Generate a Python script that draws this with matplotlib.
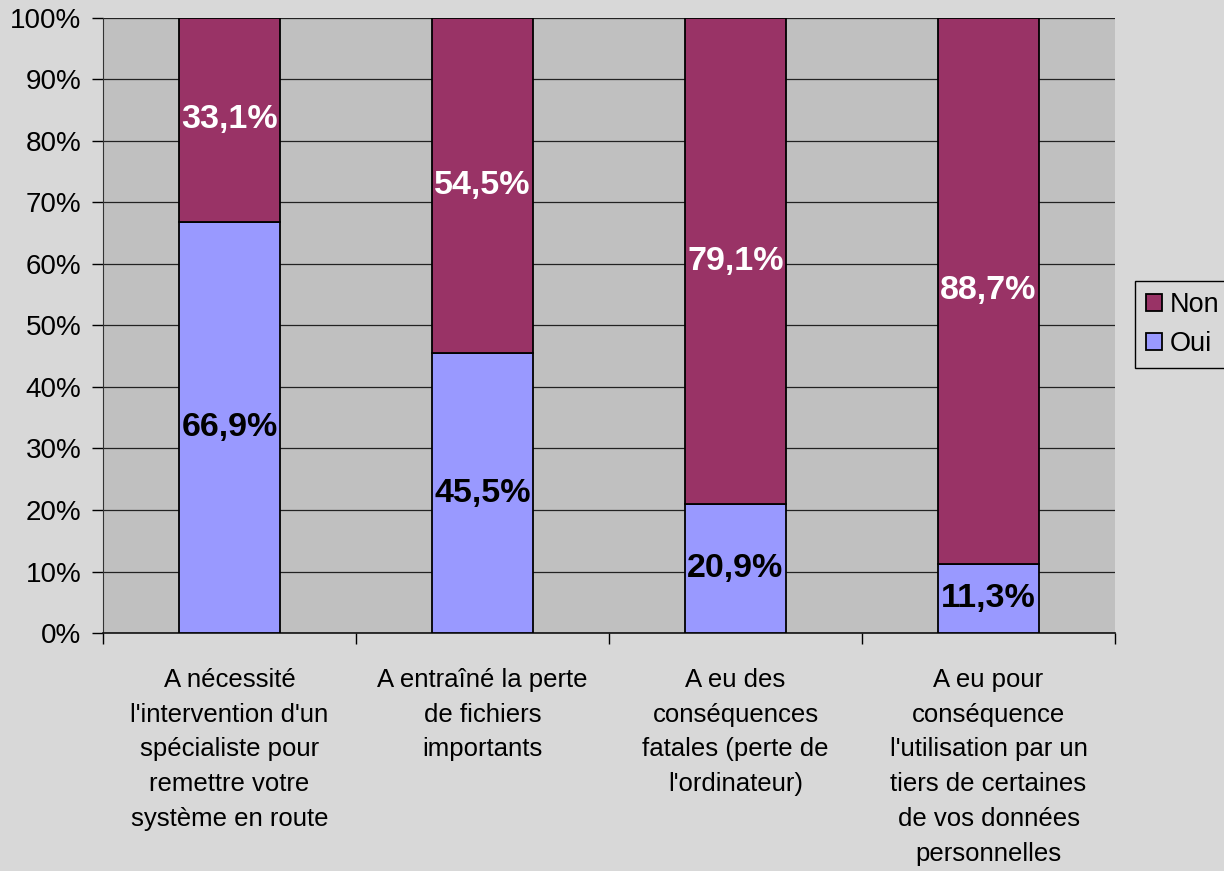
import matplotlib.pyplot as plt
import numpy as np

categories = [
    "A nécessité\nl'intervention d'un\nspécialiste pour\nremettre votre\nsystème en route",
    "A entraîné la perte\nde fichiers\nimportants",
    "A eu des\nconséquences\nfatales (perte de\nl'ordinateur)",
    "A eu pour\nconséquence\nl'utilisation par un\ntiers de certaines\nde vos données\npersonnelles",
]
oui = [66.9, 45.5, 20.9, 11.3]
non = [33.1, 54.5, 79.1, 88.7]

plt.rcParams['font.family'] = ['Liberation Sans', 'DejaVu Sans']

fig = plt.figure(figsize=(12.24, 8.71), dpi=100)
fig.patch.set_facecolor('#d8d8d8')
ax = fig.add_axes([103/1224, 1-633/871, 1012/1224, 615/871])
ax.set_facecolor('#c0c0c0')

x = np.arange(len(categories))
w = 0.4
b1 = ax.bar(x, oui, w, color='#9999ff', edgecolor='black', linewidth=1.3, label='Oui', zorder=3)
b2 = ax.bar(x, non, w, bottom=oui, color='#993366', edgecolor='black', linewidth=1.3, label='Non', zorder=3)

for i in range(len(x)):
    ax.text(x[i], oui[i]/2, f"{oui[i]:.1f}%".replace('.', ','), ha='center', va='center',
            fontsize=24.5, fontweight='bold', color='black', zorder=4)
    ax.text(x[i], oui[i] + non[i]/2, f"{non[i]:.1f}%".replace('.', ','), ha='center', va='center',
            fontsize=24.5, fontweight='bold', color='white', zorder=4)

ax.set_xlim(-0.5, len(x) - 0.5)
ax.set_ylim(0, 100)
ax.set_yticks(np.arange(0, 101, 10))
ax.set_yticklabels([f"{v}%" for v in range(0, 101, 10)], fontsize=20)
ax.yaxis.grid(True, color='#222222', linewidth=0.9, zorder=0)
ax.tick_params(axis='y', length=8, width=1, direction='out', pad=7.5)

ax.set_xticks(x)
ax.set_xticklabels(categories, fontsize=18.5, linespacing=1.57, va='top')
ax.tick_params(axis='x', length=0, pad=25)
ax.set_xticks(np.arange(-0.5, len(x), 1), minor=True)
ax.tick_params(axis='x', which='minor', length=8, width=1, direction='out')

for s in ['top', 'right']:
    ax.spines[s].set_visible(False)
ax.spines['left'].set_color('#333333')
ax.spines['bottom'].set_color('#111111')
ax.spines['bottom'].set_linewidth(1.2)

handles = [b2, b1]
leg = fig.legend(handles, ['Non', 'Oui'], loc='upper left', bbox_to_anchor=(1135/1224, 1-281/871),
                 fontsize=19.5, frameon=True, fancybox=False, edgecolor='black',
                 facecolor='#d8d8d8', framealpha=1, handlelength=0.6, handleheight=0.6,
                 handletextpad=0.3, borderpad=0.4, labelspacing=0.5, borderaxespad=0)
leg.get_frame().set_linewidth(1)

fig.savefig('out.png', dpi=100, facecolor=fig.get_facecolor())
